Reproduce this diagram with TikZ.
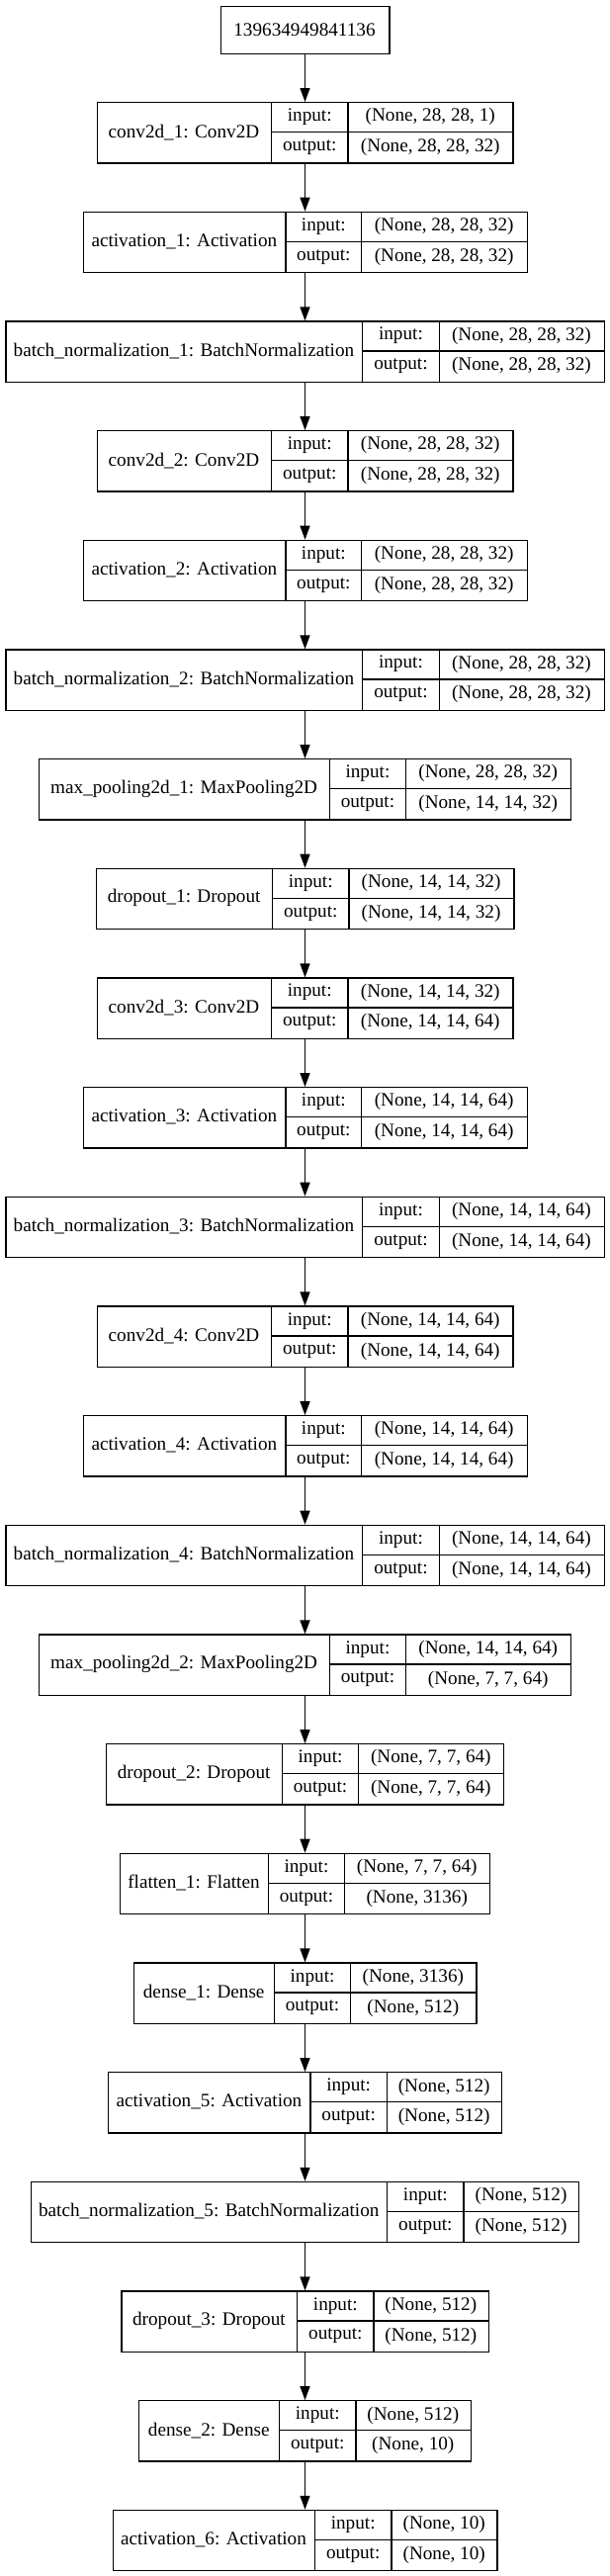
\documentclass[tikz,border=0pt]{standalone}
\usepackage{fontspec}
\setmainfont{Liberation Serif}
\usetikzlibrary{arrows.meta}
\tikzset{
  layerframe/.style={draw=black, line width=1.33pt, inner sep=0pt, anchor=north west},
  cellline/.style={draw=black, line width=1.33pt},
  celltext/.style={inner sep=0pt, text=black},
  arr/.style={draw=black, line width=1.33pt, -{Triangle[length=14pt,width=10pt]}},
}
\newcommand{\layerbox}[9]{%
  \pgfmathsetmacro{\ltop}{103+(#2-1)*110.67}%
  \pgfmathsetmacro{\lbot}{\ltop+61.3}%
  \pgfmathsetmacro{\lmid}{\ltop+30.65}%
  \pgfmathsetmacro{\lw}{#6-#3}%
  \pgfmathsetmacro{\lupper}{\ltop+15.3}%
  \pgfmathsetmacro{\llower}{\ltop+46}%
  \pgfmathsetmacro{\cA}{(#3+#4)/2}%
  \pgfmathsetmacro{\cB}{(#4+#5)/2}%
  \pgfmathsetmacro{\cC}{(#5+#6)/2}%
  \node[layerframe, minimum width={\lw pt}, minimum height=61.3pt] (#1) at (#3,\ltop) {};
  \draw[cellline] (#4,\ltop) -- (#4,\lbot);
  \draw[cellline] (#5,\ltop) -- (#5,\lbot);
  \draw[cellline] (#4,\lmid) -- (#6,\lmid);
  \node[celltext] (#1-name) at (\cA,\lmid) {#7};
  \node[celltext] (#1-in) at (\cB,\lupper) {input:};
  \node[celltext] (#1-out) at (\cB,\llower) {output:};
  \node[celltext] (#1-inv) at (\cC,\lupper) {#8};
  \node[celltext] (#1-outv) at (\cC,\llower) {#9};
}
\begin{document}
\begin{tikzpicture}[x=1pt, y=-1pt, font=\fontsize{19.2}{23}\selectfont]
\useasboundingbox (0,0) rectangle (616,2605);
\coordinate (axis) at (308.5,0);
\node[layerframe, minimum width=170.7pt, minimum height=48.3pt] (inp) at (222.6,5.7) {};
\node[celltext] (inp-name) at (308,29.85) {139634949841136};

\layerbox{c1}{1}{97.5}{274.4}{352.1}{518.4}{conv2d\_1: Conv2D}{(None, 28, 28, 1)}{(None, 28, 28, 32)}
\layerbox{a1}{2}{83.8}{288.9}{365.8}{532.6}{activation\_1: Activation}{(None, 28, 28, 32)}{(None, 28, 28, 32)}
\layerbox{b1}{3}{5.3}{366.6}{444.3}{610.6}{batch\_normalization\_1: BatchNormalization}{(None, 28, 28, 32)}{(None, 28, 28, 32)}
\layerbox{c2}{4}{97.5}{274.4}{352.1}{518.4}{conv2d\_2: Conv2D}{(None, 28, 28, 32)}{(None, 28, 28, 32)}
\layerbox{a2}{5}{83.8}{288.9}{365.8}{532.6}{activation\_2: Activation}{(None, 28, 28, 32)}{(None, 28, 28, 32)}
\layerbox{b2}{6}{5.3}{366.6}{444.3}{610.6}{batch\_normalization\_2: BatchNormalization}{(None, 28, 28, 32)}{(None, 28, 28, 32)}
\layerbox{m1}{7}{39.0}{333.3}{410.6}{576.9}{max\_pooling2d\_1: MaxPooling2D}{(None, 28, 28, 32)}{(None, 14, 14, 32)}
\layerbox{d1}{8}{96.7}{275.6}{352.9}{519.2}{dropout\_1: Dropout}{(None, 14, 14, 32)}{(None, 14, 14, 32)}
\layerbox{c3}{9}{97.5}{274.4}{352.1}{518.4}{conv2d\_3: Conv2D}{(None, 14, 14, 32)}{(None, 14, 14, 64)}
\layerbox{a3}{10}{83.8}{288.9}{365.8}{532.6}{activation\_3: Activation}{(None, 14, 14, 64)}{(None, 14, 14, 64)}
\layerbox{b3}{11}{5.3}{366.6}{444.3}{610.6}{batch\_normalization\_3: BatchNormalization}{(None, 14, 14, 64)}{(None, 14, 14, 64)}
\layerbox{c4}{12}{97.5}{274.4}{352.1}{518.4}{conv2d\_4: Conv2D}{(None, 14, 14, 64)}{(None, 14, 14, 64)}
\layerbox{a4}{13}{83.8}{288.9}{365.8}{532.6}{activation\_4: Activation}{(None, 14, 14, 64)}{(None, 14, 14, 64)}
\layerbox{b4}{14}{5.3}{366.6}{444.3}{610.6}{batch\_normalization\_4: BatchNormalization}{(None, 14, 14, 64)}{(None, 14, 14, 64)}
\layerbox{m2}{15}{39.0}{333.3}{410.6}{576.9}{max\_pooling2d\_2: MaxPooling2D}{(None, 14, 14, 64)}{(None, 7, 7, 64)}
\layerbox{d2}{16}{106.9}{285.4}{362.7}{509.0}{dropout\_2: Dropout}{(None, 7, 7, 64)}{(None, 7, 7, 64)}
\layerbox{f1}{17}{120.6}{271.3}{348.6}{494.9}{flatten\_1: Flatten}{(None, 7, 7, 64)}{(None, 3136)}
\layerbox{e1}{18}{134.8}{277.6}{354.5}{481.2}{dense\_1: Dense}{(None, 3136)}{(None, 512)}
\layerbox{a5}{19}{108.9}{314.0}{391.3}{507.1}{activation\_5: Activation}{(None, 512)}{(None, 512)}
\layerbox{b5}{20}{30.8}{391.7}{469.0}{585.1}{batch\_normalization\_5: BatchNormalization}{(None, 512)}{(None, 512)}
\layerbox{d3}{21}{122.2}{300.7}{378.0}{493.7}{dropout\_3: Dropout}{(None, 512)}{(None, 512)}
\layerbox{e2}{22}{139.9}{282.7}{359.9}{475.7}{dense\_2: Dense}{(None, 512)}{(None, 10)}
\layerbox{a6}{23}{113.6}{318.4}{396.0}{502.4}{activation\_6: Activation}{(None, 10)}{(None, 10)}

\foreach \p/\q in {inp/c1, c1/a1, a1/b1, b1/c2, c2/a2, a2/b2, b2/m1, m1/d1, d1/c3, c3/a3, a3/b3, b3/c4, c4/a4, a4/b4, b4/m2, m2/d2, d2/f1, f1/e1, e1/a5, a5/b5, b5/d3, d3/e2, e2/a6}
  \draw[arr] (\p.south -| axis) -- (\q.north -| axis);
\end{tikzpicture}
\end{document}
